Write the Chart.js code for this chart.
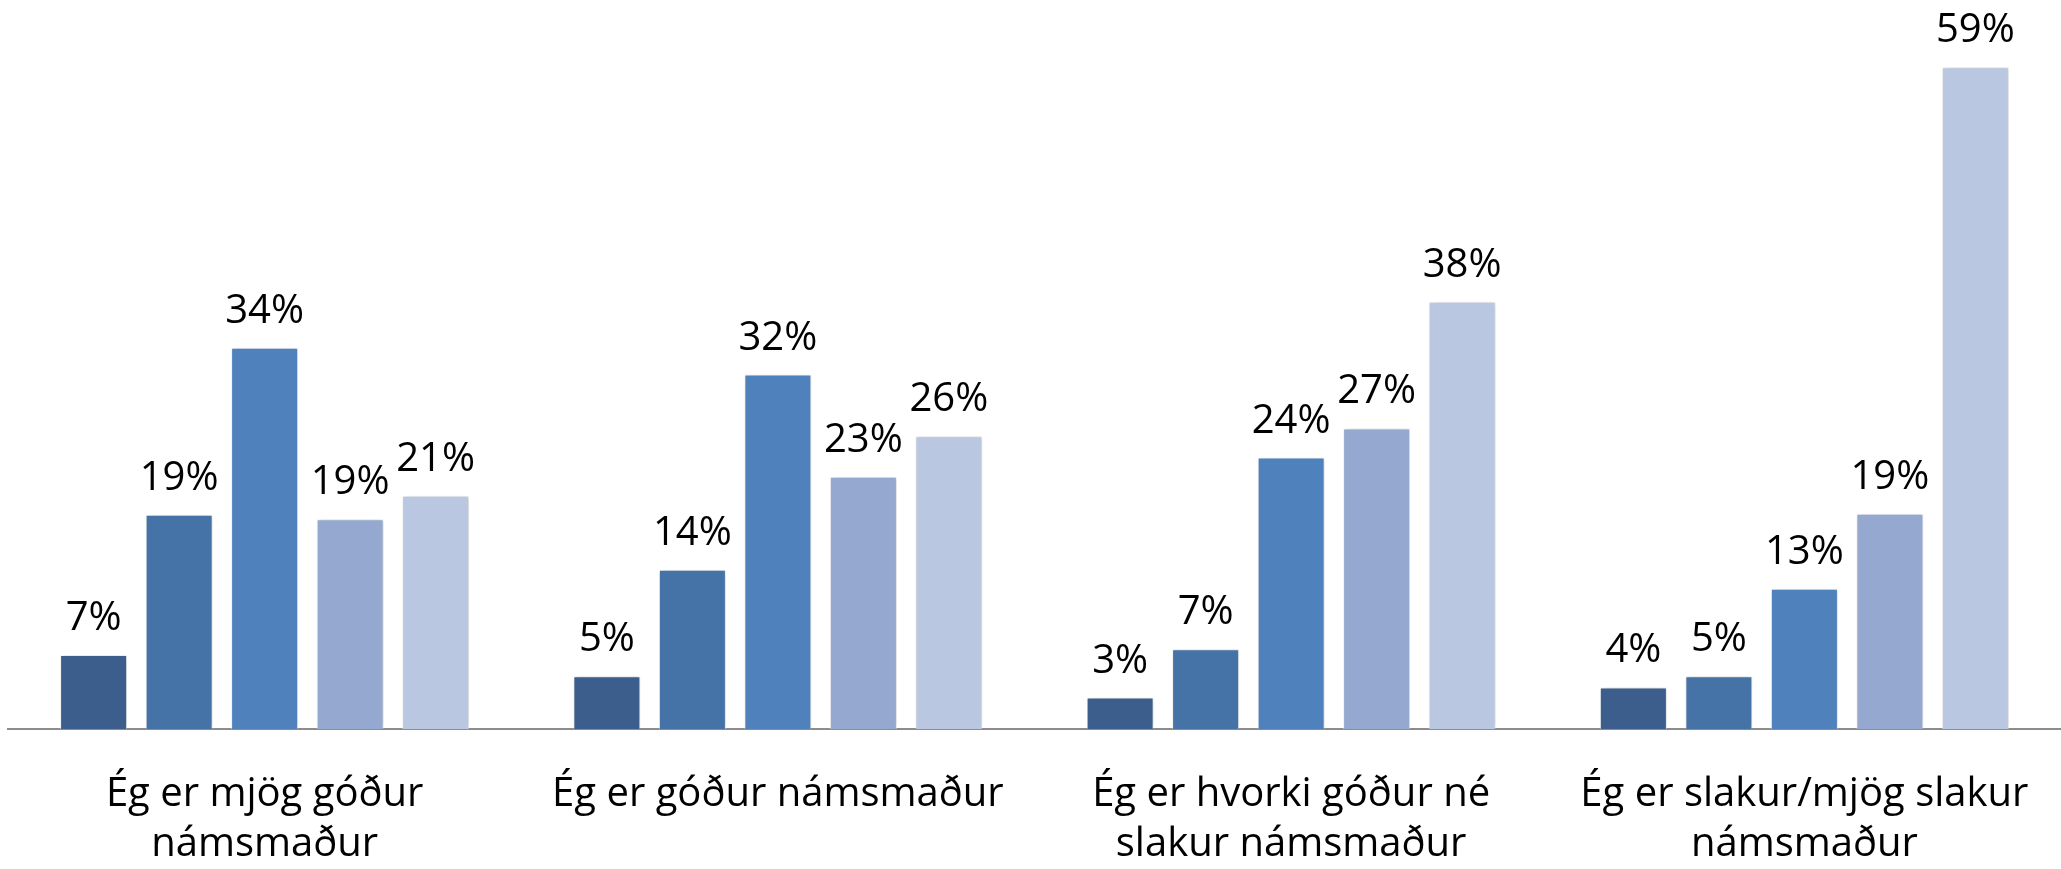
<!DOCTYPE html>
<html>
<head>
<meta charset="utf-8">
<script src="https://cdn.jsdelivr.net/npm/chart.js@4"></script>
<style>
  html, body { margin: 0; padding: 0; background: #fff; overflow: hidden; }
  #wrap { width: 2061px; height: 869px; position: relative; }
  #chart { display: block; }
</style>
</head>
<body>
<div id="wrap"><canvas id="chart"></canvas></div>
<script>
// Categories (x axis), split into lines like the original
const categories = [
  ['Ég er mjög góður', 'námsmaður'],
  'Ég er góður námsmaður',
  ['Ég er hvorki góður né', 'slakur námsmaður'],
  ['Ég er slakur/mjög slakur', 'námsmaður']
];

// Bar heights (%)
const series1 = [6.6, 4.7, 2.8, 3.7];
const series2 = [19.1, 14.2, 7.1, 4.7];
const series3 = [34, 31.6, 24.2, 12.5];
const series4 = [18.7, 22.5, 26.8, 19.2];
const series5 = [20.8, 26.1, 38.1, 59];

// Printed value labels
const labels1 = ['7%', '5%', '3%', '4%'];
const labels2 = ['19%', '14%', '7%', '5%'];
const labels3 = ['34%', '32%', '24%', '13%'];
const labels4 = ['19%', '23%', '27%', '19%'];
const labels5 = ['21%', '26%', '38%', '59%'];

const seriesNames = ['Röð 1', 'Röð 2', 'Röð 3', 'Röð 4', 'Röð 5'];
const colors = ['#3c5e8c', '#4572a7', '#4f81bd', '#95a8cf', '#b9c7e0'];

const allSeries = [series1, series2, series3, series4, series5];
const allLabels = [labels1, labels2, labels3, labels4, labels5];

const FONT = "'Open Sans', 'DejaVu Sans', sans-serif";

// Soft shadow round the bars
const barShadow = {
  id: 'barShadow',
  beforeDatasetsDraw(chart) {
    const ctx = chart.ctx;
    ctx.save();
    ctx.shadowColor = 'rgba(0,0,0,0.22)';
    ctx.shadowBlur = 5;
    ctx.shadowOffsetX = 1;
    ctx.shadowOffsetY = 0;
  },
  afterDatasetsDraw(chart) {
    chart.ctx.restore();
  }
};

// Value labels above each bar
const valueLabels = {
  id: 'valueLabels',
  afterDatasetsDraw(chart) {
    const ctx = chart.ctx;
    ctx.save();
    ctx.font = `40px ${FONT}`;
    ctx.fillStyle = '#000';
    ctx.textAlign = 'center';
    ctx.textBaseline = 'alphabetic';
    chart.data.datasets.forEach((ds, i) => {
      chart.getDatasetMeta(i).data.forEach((bar, j) => {
        ctx.fillText(allLabels[i][j], bar.x, bar.y - 25);
      });
    });
    ctx.restore();
  }
};

new Chart(document.getElementById('chart'), {
  type: 'bar',
  data: {
    labels: categories,
    datasets: allSeries.map((d, i) => ({
      label: seriesNames[i],
      data: d,
      backgroundColor: colors[i],
      borderColor: 'rgba(255,255,255,0.55)',
      borderWidth: 1,
      categoryPercentage: 0.833,
      barPercentage: 0.784
    }))
  },
  options: {
    responsive: true,
    maintainAspectRatio: false,
    animation: false,
    layout: { padding: { left: 8, right: 0, top: 56, bottom: 0 } },
    plugins: {
      legend: { display: false },
      tooltip: { enabled: false }
    },
    scales: {
      x: {
        grid: { display: false, drawTicks: false },
        border: { display: true, color: '#8c8c8c', width: 2 },
        ticks: {
          color: '#000',
          padding: 41,
          maxRotation: 0,
          autoSkip: false,
          font: { family: FONT, size: 40, lineHeight: 1.25 }
        },
        // fixed axis height, and no extra room for the wide last label
        afterFit(scale) {
          scale.height = 140;
          scale.paddingLeft = 0;
          scale.paddingRight = 0;
        }
      },
      y: {
        display: false,
        min: 0,
        max: 60,
        grid: { display: false }
      }
    }
  },
  plugins: [barShadow, valueLabels]
});
</script>
</body>
</html>
